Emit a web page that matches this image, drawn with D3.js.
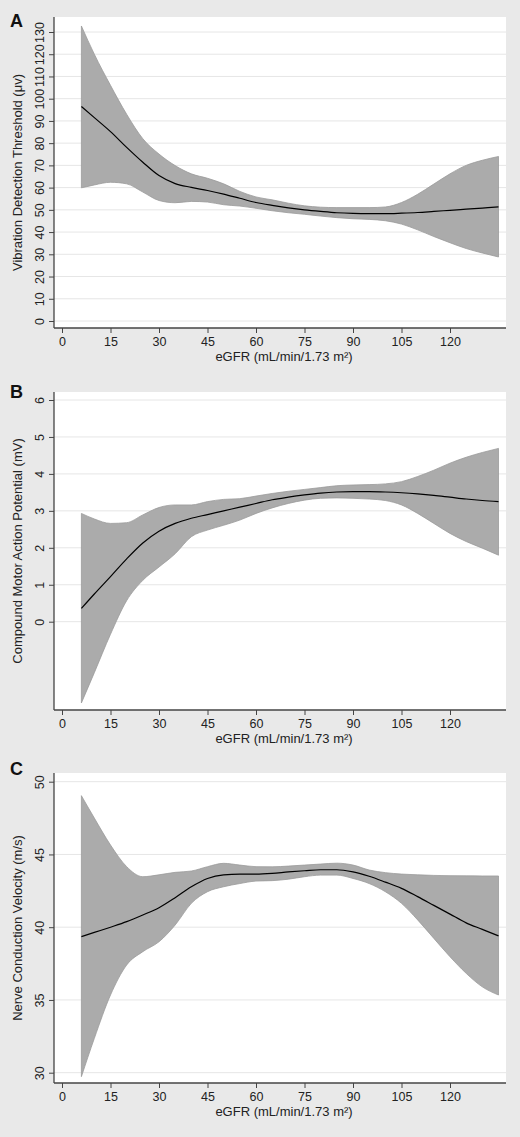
<!DOCTYPE html>
<html lang="en">
<head>
<meta charset="UTF-8">
<title>eGFR spline panels</title>
<script src="https://cdnjs.cloudflare.com/ajax/libs/d3/7.8.5/d3.min.js"></script>
<style>
    body { margin: 0; background: #e9e9e9; }
    svg { display: block; font-family: "Liberation Sans", Arial, sans-serif; }
    .grid line { stroke: #e6e6e6; stroke-width: 1; }
    .axis .domain { display: none; }
    .axis line { stroke: #444; stroke-width: 1; }
    .axis text { fill: #222; font-size: 12.5px; }
    .axisLine { stroke: #444; stroke-width: 1.3; }
    .band { fill: #ababab; stroke: #9a9a9a; stroke-width: 0.8; }
    .fit { fill: none; stroke: #000; stroke-width: 1.2; }
    .title { fill: #222; font-size: 13px; }
    .panelLabel { fill: #111; font-size: 18px; font-weight: bold; }
</style>
</head>
<body>
<svg id="chart" width="520" height="1137"></svg>
<script>
// eGFR grid shared by all three panels
const egfr = [6, 10, 15, 20, 25, 30, 35, 40, 45, 50, 55, 60, 65, 70, 75, 80, 85, 90, 95, 100, 105, 110, 115, 120, 125, 130, 135];
const xTicks = [0, 15, 30, 45, 60, 75, 90, 105, 120];

// A: vibration detection threshold
const vdtFit = [96.5, 91.5, 85.2, 78.1, 71.4, 65.4, 61.8, 60.1, 58.7, 57.1, 55.2, 53.3, 52.0, 50.9, 50.0, 49.3, 48.7, 48.4, 48.3, 48.3, 48.5, 48.8, 49.3, 49.8, 50.3, 50.8, 51.3];
const vdtHi = [132.7, 120, 106, 93, 82, 75.1, 69.9, 66.2, 64.2, 61.7, 58.3, 55.8, 54.5, 53.0, 51.8, 51.2, 51.0, 51.0, 51.0, 51.3, 53.3, 57.0, 61.6, 66.2, 70.0, 72.3, 74.0];
const vdtLo = [59.9, 61.2, 62.4, 61.7, 58.0, 54.2, 53.2, 53.8, 53.5, 52.3, 51.7, 50.7, 49.6, 48.7, 48.0, 47.2, 46.5, 46.0, 45.7, 45.1, 43.6, 41.0, 38.0, 35.2, 32.6, 30.6, 28.8];
const vdtTicks = [0, 10, 20, 30, 40, 50, 60, 70, 80, 90, 100, 110, 120, 130];

// B: compound motor action potential
const cmapFit = [0.36, 0.75, 1.22, 1.7, 2.13, 2.45, 2.66, 2.8, 2.9, 3.0, 3.1, 3.2, 3.3, 3.37, 3.43, 3.48, 3.51, 3.52, 3.52, 3.51, 3.49, 3.46, 3.42, 3.37, 3.32, 3.28, 3.25];
const cmapHi = [2.93, 2.78, 2.66, 2.68, 2.89, 3.09, 3.16, 3.16, 3.25, 3.31, 3.33, 3.4, 3.47, 3.53, 3.58, 3.63, 3.68, 3.7, 3.71, 3.73, 3.79, 3.93, 4.1, 4.29, 4.45, 4.58, 4.69];
const cmapLo = [-2.2, -1.38, -0.34, 0.57, 1.12, 1.48, 1.84, 2.3, 2.48, 2.61, 2.75, 2.93, 3.08, 3.2, 3.29, 3.34, 3.35, 3.34, 3.32, 3.28, 3.16, 2.93, 2.66, 2.39, 2.17, 1.99, 1.8];
const cmapTicks = [0, 1, 2, 3, 4, 5, 6];

// C: nerve conduction velocity
const ncvFit = [39.35, 39.64, 40.0, 40.38, 40.84, 41.34, 42.03, 42.78, 43.35, 43.6, 43.65, 43.65, 43.7, 43.8, 43.88, 43.95, 43.95, 43.8, 43.5, 43.1, 42.67, 42.1, 41.5, 40.9, 40.3, 39.85, 39.4];
const ncvHi = [49.04, 47.5, 45.65, 44.16, 43.47, 43.6, 43.77, 43.86, 44.16, 44.39, 44.27, 44.16, 44.15, 44.2, 44.27, 44.34, 44.4, 44.27, 43.93, 43.75, 43.65, 43.6, 43.56, 43.54, 43.53, 43.52, 43.52];
const ncvLo = [29.73, 32.36, 35.34, 37.4, 38.32, 39.0, 40.15, 41.64, 42.44, 42.78, 43.0, 43.17, 43.2, 43.3, 43.47, 43.58, 43.58, 43.35, 43.0, 42.44, 41.64, 40.5, 39.23, 37.97, 36.83, 35.9, 35.34];
const ncvTicks = [30, 35, 40, 45, 50];

const xTitle = "eGFR (mL/min/1.73 m²)";

const left = 54, right = 506;
const x = d3.scaleLinear().domain([0, 120]).range([62, 450]);

const panels = [
    { label: "A", title: "Vibration Detection Threshold (μv)", fit: vdtFit, hi: vdtHi, lo: vdtLo, ticks: vdtTicks,
      top: 17, bottom: 328, yDomain: [0, 130], yRange: [321, 32], labelY: 27 },
    { label: "B", title: "Compound Motor Action Potential (mV)", fit: cmapFit, hi: cmapHi, lo: cmapLo, ticks: cmapTicks,
      top: 392, bottom: 710, yDomain: [0, 6], yRange: [621.7, 400], labelY: 398 },
    { label: "C", title: "Nerve Conduction Velocity (m/s)", fit: ncvFit, hi: ncvHi, lo: ncvLo, ticks: ncvTicks,
      top: 773, bottom: 1083, yDomain: [30, 50], yRange: [1072.7, 781.7], labelY: 775 }
];

const svg = d3.select("#chart");

panels.forEach(p => {
    const y = d3.scaleLinear().domain(p.yDomain).range(p.yRange);
    const g = svg.append("g");

    g.append("rect")
        .attr("x", left).attr("y", p.top)
        .attr("width", right - left).attr("height", p.bottom - p.top)
        .attr("fill", "#fff");

    g.append("g").attr("class", "grid")
        .selectAll("line").data(p.ticks).enter().append("line")
        .attr("x1", left).attr("x2", right)
        .attr("y1", d => y(d)).attr("y2", d => y(d));

    const rows = egfr.map((e, i) => ({ e: e, fit: p.fit[i], hi: p.hi[i], lo: p.lo[i] }));

    const area = d3.area()
        .x(d => x(d.e)).y0(d => y(d.lo)).y1(d => y(d.hi))
        .curve(d3.curveMonotoneX);
    const line = d3.line()
        .x(d => x(d.e)).y(d => y(d.fit))
        .curve(d3.curveMonotoneX);

    g.append("path").datum(rows).attr("class", "band").attr("d", area);
    g.append("path").datum(rows).attr("class", "fit").attr("d", line);

    // axes
    g.append("g").attr("class", "axis")
        .attr("transform", `translate(${left},0)`)
        .call(d3.axisLeft(y).tickValues(p.ticks).tickSize(5).tickFormat(d3.format("d")))
        .selectAll("text")
        .attr("x", 0).attr("dy", 0)
        .attr("text-anchor", "middle")
        .attr("transform", "translate(-10,0) rotate(-90)");

    g.append("g").attr("class", "axis")
        .attr("transform", `translate(0,${p.bottom})`)
        .call(d3.axisBottom(x).tickValues(xTicks).tickSize(5).tickPadding(4).tickFormat(d3.format("d")));

    g.append("line").attr("class", "axisLine")
        .attr("x1", left).attr("x2", left).attr("y1", p.top).attr("y2", p.bottom);
    g.append("line").attr("class", "axisLine")
        .attr("x1", left).attr("x2", right).attr("y1", p.bottom).attr("y2", p.bottom);

    // titles
    g.append("text").attr("class", "title")
        .attr("text-anchor", "middle")
        .attr("transform", `translate(22,${(p.top + p.bottom) / 2}) rotate(-90)`)
        .text(p.title);

    g.append("text").attr("class", "title")
        .attr("text-anchor", "middle")
        .attr("x", (left + right) / 2 + 4)
        .attr("y", p.bottom + 33)
        .text(xTitle);

    g.append("text").attr("class", "panelLabel")
        .attr("x", 10).attr("y", p.labelY)
        .text(p.label);
});
</script>
</body>
</html>
